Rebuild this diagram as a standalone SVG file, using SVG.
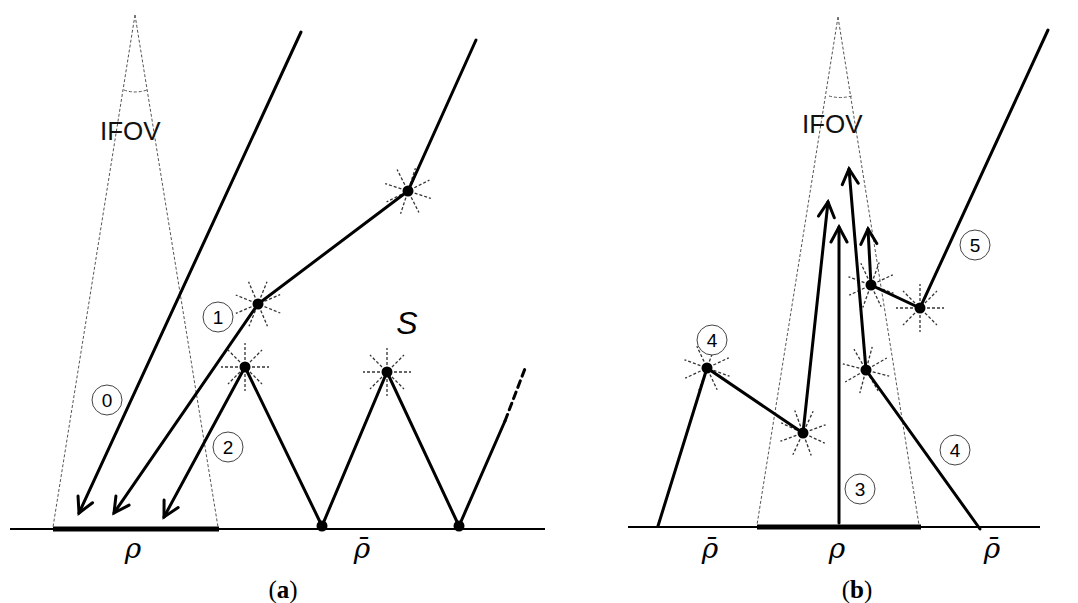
<svg xmlns="http://www.w3.org/2000/svg" width="1078" height="603" viewBox="0 0 1078 603">
<style>
.ray{stroke:#000;stroke-width:3;fill:none;stroke-linecap:round}
.cone{stroke:#555;stroke-width:1;stroke-dasharray:3,2;fill:none}
.gnd{stroke:#000;stroke-width:2;fill:none}
.bold{stroke:#000;stroke-width:5;fill:none}
.circ{fill:#fff;stroke:#444;stroke-width:1}
.num{font-family:"Liberation Sans",Arial,sans-serif;font-size:19px;fill:#000;text-anchor:middle}
.ifov{font-family:"Liberation Sans",Arial,sans-serif;font-size:26px;fill:#111}
.rho{font-family:"DejaVu Serif","Liberation Serif",serif;font-style:italic;font-size:28px;fill:#000;text-anchor:middle}
.cap{font-family:"Liberation Serif","Times New Roman",serif;font-size:25px;fill:#000;text-anchor:middle}
.sb line{stroke:#333;stroke-width:1.3;stroke-dasharray:3,2}
</style>
<defs>
<marker id="arr" markerUnits="userSpaceOnUse" viewBox="-17 -10 20 20" refX="0" refY="0" markerWidth="20" markerHeight="20" orient="auto">
<path d="M-15,-8 L0,0 L-15,8" fill="none" stroke="#000" stroke-width="3" stroke-linejoin="miter" stroke-linecap="round"/>
</marker>
<g id="burst" class="sb">
<line x1="7" y1="0" x2="24" y2="0"/>
<line x1="-7" y1="0" x2="-24" y2="0"/>
<line x1="0" y1="7" x2="0" y2="24"/>
<line x1="0" y1="-7" x2="0" y2="-24"/>
<line x1="5" y1="5" x2="17" y2="17"/>
<line x1="-5" y1="5" x2="-17" y2="17"/>
<line x1="5" y1="-5" x2="17" y2="-17"/>
<line x1="-5" y1="-5" x2="-17" y2="-17"/>
</g>
</defs>
<rect width="1078" height="603" fill="#fff"/>

<!-- Panel (a) -->
<g id="cone-a">
<line class="cone" x1="135" y1="15" x2="53" y2="527"/>
<line class="cone" x1="135" y1="15" x2="218" y2="527"/>
<path class="cone" d="M124,90 Q135,94 147,90"/>
<text class="ifov" x="100" y="140">IFOV</text>
</g>
<g id="ground-a">
<line class="gnd" x1="10" y1="529" x2="545" y2="529"/>
<line class="bold" x1="53" y1="529" x2="219" y2="529"/>
</g>
<g id="bursts-a">
<use href="#burst" transform="translate(408,191) rotate(18)"/>
<use href="#burst" transform="translate(258,304) rotate(22)"/>
<use href="#burst" transform="translate(245,367)"/>
<use href="#burst" transform="translate(387,372)"/>
</g>
<g id="connectors-a">
<line class="ray" x1="301" y1="32" x2="79" y2="513" marker-end="url(#arr)"/>
<polyline class="ray" points="476,40 408,191 258,304 114,513" marker-end="url(#arr)"/>
<line class="ray" x1="245" y1="367" x2="164" y2="517" marker-end="url(#arr)"/>
<polyline class="ray" points="245,367 322,526 387,372 459,526 505,421"/>
<line class="ray" x1="505" y1="421" x2="526" y2="366" stroke-dasharray="7,5" stroke-linecap="butt"/>
</g>
<g id="dots-a">
<circle cx="408" cy="191" r="5.5"/>
<circle cx="258" cy="304" r="5.5"/>
<circle cx="245" cy="367" r="5.5"/>
<circle cx="387" cy="372" r="5.5"/>
<circle cx="322" cy="526" r="5.5"/>
<circle cx="459" cy="526" r="5.5"/>
</g>
<g id="label-0"><circle class="circ" cx="107" cy="400" r="15"/><text class="num" x="107" y="407">0</text></g>
<g id="label-1"><circle class="circ" cx="218" cy="317" r="15"/><text class="num" x="218" y="324">1</text></g>
<g id="label-2"><circle class="circ" cx="228" cy="447" r="15"/><text class="num" x="228" y="454">2</text></g>
<text x="407" y="334" font-family="Liberation Sans, Arial, sans-serif" font-style="italic" font-size="32" text-anchor="middle">S</text>
<text class="rho" x="133" y="558">ρ</text>
<text class="rho" x="362" y="558">ρ̄</text>
<text class="cap" x="283" y="598">(<tspan font-weight="bold">a</tspan>)</text>

<!-- Panel (b) -->
<g id="cone-b">
<line class="cone" x1="838" y1="17" x2="757" y2="525"/>
<line class="cone" x1="838" y1="17" x2="919" y2="525"/>
<path class="cone" d="M829,96 Q840,99 852,96"/>
<text class="ifov" x="802" y="133">IFOV</text>
</g>
<g id="ground-b">
<line class="gnd" x1="628" y1="527" x2="1040" y2="527"/>
<line class="bold" x1="757" y1="527" x2="921" y2="527"/>
</g>
<g id="bursts-b">
<use href="#burst" transform="translate(707,368) rotate(20)"/>
<use href="#burst" transform="translate(803,433) rotate(25)"/>
<use href="#burst" transform="translate(866,370) rotate(15)"/>
<use href="#burst" transform="translate(871,285) rotate(20)"/>
<use href="#burst" transform="translate(920,308)"/>
</g>
<g id="connectors-b">
<polyline class="ray" points="658,526 707,368 803,433 828,202" marker-end="url(#arr)"/>
<line class="ray" x1="839" y1="523" x2="839" y2="227" marker-end="url(#arr)"/>
<polyline class="ray" points="980,529 866,370 849,169" marker-end="url(#arr)"/>
<polyline class="ray" points="1048,30 920,308 871,285 868,229" marker-end="url(#arr)"/>
</g>
<g id="dots-b">
<circle cx="707" cy="368" r="5.5"/>
<circle cx="803" cy="433" r="5.5"/>
<circle cx="866" cy="370" r="5.5"/>
<circle cx="871" cy="285" r="5.5"/>
<circle cx="920" cy="308" r="5.5"/>
</g>
<g id="label-4a"><circle class="circ" cx="712" cy="340" r="15"/><text class="num" x="712" y="347">4</text></g>
<g id="label-4b"><circle class="circ" cx="955" cy="450" r="15"/><text class="num" x="955" y="457">4</text></g>
<g id="label-3"><circle class="circ" cx="860" cy="489" r="15"/><text class="num" x="860" y="496">3</text></g>
<g id="label-5"><circle class="circ" cx="975" cy="245" r="15"/><text class="num" x="975" y="252">5</text></g>
<text class="rho" x="710" y="558">ρ̄</text>
<text class="rho" x="837" y="558">ρ</text>
<text class="rho" x="992" y="558">ρ̄</text>
<text class="cap" x="857" y="598">(<tspan font-weight="bold">b</tspan>)</text>
</svg>
